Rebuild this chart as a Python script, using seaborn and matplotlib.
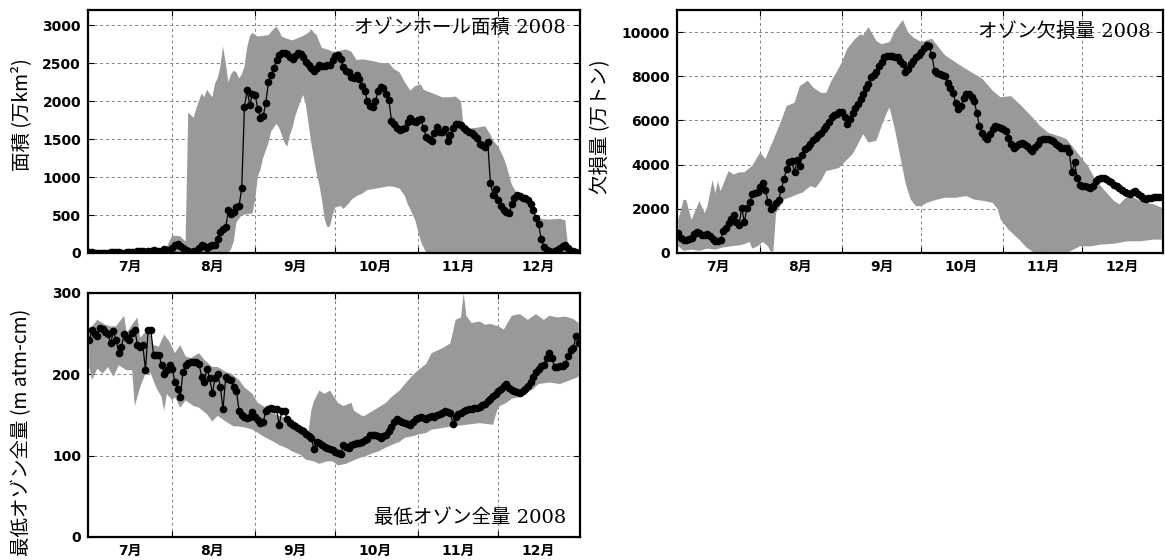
import numpy as np
import pandas as pd
import matplotlib
matplotlib.use("Agg")
import matplotlib.pyplot as plt
import seaborn as sns

# ---------------- data ----------------
months = ["7月", "8月", "9月", "10月", "11月", "12月"]
titles = ["オゾンホール面積 2008", "オゾン欠損量 2008", "最低オゾン全量 2008"]
ylabels = ["面積 (万km²)", "欠損量 (万トン)", "最低オゾン全量 (m atm-cm)"]

# Ozone hole area 2008 (10^4 km2), daily Jul 1 .. Dec 31
area_jul = [10, 8, 5, 5, 3, 3, 5, 5, 8, 10, 10, 8, 5, 5, 8, 10, 10, 15, 20, 25, 20, 15, 20, 30, 40, 30, 20, 30, 50, 40, 30]
area_aug = [60, 100, 120, 90, 60, 40, 20, 10, 20, 30, 60, 100, 90, 70, 90, 100, 110, 180, 270, 320, 340, 560, 520, 540, 600, 620, 860, 1920, 2140, 1950, 2090]
area_sep = [2080, 1900, 1780, 1800, 1980, 2250, 2350, 2430, 2540, 2610, 2640, 2640, 2620, 2580, 2550, 2600, 2630, 2620, 2580, 2520, 2480, 2440, 2400, 2430, 2470, 2460, 2460, 2470, 2480, 2540]
area_oct = [2590, 2610, 2560, 2450, 2400, 2380, 2320, 2300, 2350, 2290, 2200, 2130, 2000, 1930, 1920, 2000, 2130, 2180, 2170, 2100, 2020, 1740, 1700, 1650, 1620, 1630, 1650, 1720, 1780, 1740, 1720]
area_nov = [1750, 1760, 1640, 1530, 1500, 1480, 1580, 1660, 1590, 1600, 1630, 1480, 1560, 1640, 1700, 1700, 1680, 1650, 1620, 1600, 1580, 1560, 1520, 1440, 1420, 1400, 1460, 920, 760, 840]
area_dec = [700, 620, 570, 540, 530, 640, 720, 760, 750, 730, 720, 700, 640, 560, 460, 380, 180, 80, 40, 20, 10, 20, 40, 70, 90, 100, 60, 30, 20, 10, 5]

# range of past years (band), day offsets from Jul 1
area_up_day = [0, 6, 12, 17, 21, 25, 29, 31, 34, 36, 37, 39, 40, 41, 42, 43, 44, 45, 46, 47, 48, 49, 50, 51, 52, 53, 54, 55, 56, 57, 58, 59, 60, 61, 62, 63, 65, 67, 69, 70, 71, 72, 74, 76, 78, 80, 82, 83, 84, 85, 86, 87, 89, 91, 93, 96, 98, 100, 102, 104, 107, 109, 112, 114, 116, 118, 120, 122, 124, 125, 127, 130, 132, 135, 137, 139, 140, 142, 145, 148, 150, 151, 153, 155, 156, 158, 160, 162, 164, 166, 168, 172, 176, 178, 179, 181, 183]
area_up_val = [20, 10, 30, 50, 30, 60, 80, 230, 220, 150, 1850, 1780, 1900, 2000, 2100, 2050, 2150, 2100, 2050, 2230, 2300, 2450, 2720, 2500, 2250, 2350, 2400, 2380, 2300, 2350, 2450, 2700, 2850, 2900, 2870, 2850, 2860, 2870, 2950, 2980, 2920, 2850, 2820, 2800, 2830, 2860, 2900, 2950, 2900, 2870, 2780, 2700, 2680, 2650, 2660, 2680, 2650, 2540, 2550, 2540, 2520, 2500, 2500, 2420, 2380, 2250, 2140, 2200, 2220, 2150, 2120, 2080, 2050, 2050, 2060, 2000, 1650, 1640, 1650, 1670, 1560, 1480, 1400, 1250, 1150, 900, 780, 700, 640, 560, 450, 440, 450, 430, 100, 30, 10]
area_lo_day = [0, 52, 53, 54, 55, 57, 59, 61, 62, 63, 64, 65, 66, 67, 68, 69, 70, 71, 72, 73, 74, 75, 76, 77, 78, 79, 80, 81, 82, 83, 84, 85, 86, 87, 88, 89, 90, 91, 92, 94, 95, 97, 98, 100, 102, 104, 106, 109, 112, 114, 116, 118, 119, 121, 122, 124, 126, 183]
area_lo_val = [0, 0, 50, 150, 400, 500, 510, 520, 700, 1000, 1100, 1250, 1350, 1450, 1600, 1650, 1700, 1650, 1550, 1450, 1400, 1550, 1650, 1800, 1900, 2000, 2080, 1950, 1700, 1450, 1250, 1050, 900, 700, 450, 340, 350, 500, 600, 620, 580, 650, 700, 750, 780, 830, 840, 860, 880, 870, 850, 750, 650, 500, 420, 150, 0, 0]

# Ozone mass deficit 2008 (10^4 t)
omd_jul = [900, 700, 600, 600, 650, 700, 850, 950, 900, 800, 800, 850, 750, 650, 550, 550, 600, 1000, 1150, 1350, 1550, 1700, 1400, 1250, 2050, 1400, 2050, 2300, 2650, 2700, 2750]
omd_aug = [3000, 3150, 2850, 2300, 2000, 2100, 2250, 2400, 2900, 3350, 3800, 4100, 4150, 3650, 4200, 3950, 4450, 4700, 4800, 4950, 5100, 5200, 5350, 5450, 5600, 5750, 5950, 6150, 6250, 6300, 6400]
omd_sep = [6380, 6150, 5850, 6050, 6350, 6550, 6750, 6950, 7200, 7450, 7650, 7950, 8050, 8200, 8450, 8650, 8850, 8900, 8920, 8920, 8880, 8850, 8700, 8550, 8200, 8350, 8550, 8700, 8850, 8950]
omd_oct = [9100, 9300, 9400, 9350, 8950, 8250, 8150, 8100, 8080, 8030, 7700, 7450, 7250, 6800, 6500, 6650, 7000, 7200, 7200, 7050, 6880, 6350, 5750, 5450, 5250, 5150, 5400, 5600, 5750, 5700, 5640]
omd_nov = [5600, 5530, 5200, 4950, 4770, 4850, 4950, 5000, 4950, 4850, 4700, 4620, 4800, 4950, 5100, 5150, 5180, 5180, 5120, 5050, 4950, 4850, 4770, 4760, 4770, 4550, 3650, 4100, 3400, 3100]
omd_dec = [3050, 3030, 3000, 2950, 3050, 3250, 3350, 3400, 3400, 3330, 3260, 3200, 3100, 3030, 2950, 2850, 2780, 2700, 2650, 2750, 2800, 2650, 2580, 2500, 2450, 2470, 2500, 2520, 2540, 2550, 2540]

omd_up_day = [0, 2, 3, 5, 8, 10, 11, 13, 14, 15, 16, 19, 21, 23, 25, 28, 31, 33, 35, 36, 39, 41, 44, 46, 49, 51, 54, 56, 58, 60, 62, 64, 67, 69, 70, 72, 75, 77, 80, 82, 85, 87, 89, 92, 96, 98, 101, 106, 110, 115, 119, 122, 126, 130, 134, 137, 140, 145, 147, 151, 155, 158, 162, 165, 167, 169, 171, 175, 177, 180, 183]
omd_up_val = [1500, 2400, 2400, 1500, 2350, 1800, 2100, 3300, 2700, 3250, 2800, 3700, 3550, 3650, 3650, 3950, 4550, 4250, 4850, 5100, 6000, 6650, 6800, 7550, 7800, 7500, 7250, 7250, 7800, 8200, 8650, 9250, 9700, 9900, 9850, 10230, 9600, 9450, 9550, 10050, 10550, 10000, 9750, 9550, 9700, 9400, 8950, 8550, 8250, 7900, 7350, 7050, 7100, 6650, 6150, 5750, 5450, 5250, 5150, 4550, 3950, 3300, 2750, 2350, 2200, 2450, 2600, 2350, 2280, 2200, 2050]
omd_lo_day = [0, 2, 5, 8, 11, 14, 17, 20, 23, 25, 27, 28, 30, 32, 34, 35, 36, 37, 40, 42, 45, 47, 50, 52, 54, 56, 59, 61, 64, 66, 69, 70, 72, 75, 77, 79, 80, 82, 84, 86, 88, 90, 92, 94, 98, 101, 105, 109, 112, 116, 119, 121, 122, 125, 129, 132, 135, 140, 148, 152, 156, 160, 165, 170, 175, 180, 183]
omd_lo_val = [300, 100, 150, 100, 200, 150, 250, 300, 350, 400, 500, 200, 300, 500, 300, 50, 80, 1800, 2420, 2500, 2650, 2730, 3030, 2950, 3260, 3710, 3790, 3860, 4240, 4470, 5150, 5380, 5000, 5080, 5760, 6360, 6590, 5600, 4390, 3180, 2420, 2120, 2120, 2270, 2420, 2500, 2500, 2580, 2420, 2350, 2270, 1970, 1520, 1060, 610, 230, 0, 50, 50, 300, 300, 380, 420, 530, 530, 610, 600]

# Minimum total ozone 2008 (m atm-cm)
tmin_jul = [242, 255, 250, 247, 257, 256, 252, 249, 238, 253, 242, 226, 234, 249, 245, 242, 251, 255, 236, 234, 236, 205, 255, 255, 224, 224, 224, 212, 201, 205, 211]
tmin_aug = [207, 190, 182, 172, 203, 211, 214, 215, 215, 215, 213, 197, 190, 207, 195, 177, 195, 201, 184, 157, 197, 194, 193, 184, 180, 155, 150, 147, 146, 148, 154]
tmin_sep = [147, 144, 140, 141, 155, 157, 158, 157, 157, 138, 155, 155, 145, 140, 138, 136, 134, 132, 130, 127, 124, 122, 108, 117, 115, 113, 111, 110, 108, 107]
tmin_oct = [105, 103, 102, 113, 111, 109, 113, 114, 115, 116, 117, 119, 121, 125, 126, 126, 124, 122, 124, 126, 130, 135, 141, 145, 143, 142, 140, 139, 138, 141, 145]
tmin_nov = [146, 147, 146, 145, 148, 149, 147, 150, 151, 153, 155, 154, 153, 139, 148, 151, 153, 155, 156, 157, 157, 158, 158, 160, 162, 164, 167, 170, 173, 176]
tmin_dec = [179, 182, 186, 188, 183, 181, 179, 178, 177, 180, 182, 186, 190, 197, 203, 207, 210, 212, 220, 226, 220, 209, 209, 210, 210, 213, 222, 230, 232, 247, 238]

tmin_up_day = [0, 3, 6, 8, 10, 13, 14, 16, 18, 19, 21, 22, 24, 26, 28, 30, 32, 34, 36, 38, 41, 43, 46, 48, 51, 53, 56, 58, 61, 63, 66, 68, 71, 73, 76, 78, 81, 82, 83, 84, 86, 88, 90, 93, 95, 98, 99, 102, 103, 106, 108, 111, 113, 116, 118, 121, 123, 126, 128, 132, 135, 137, 139, 140, 141, 143, 146, 148, 150, 153, 155, 158, 161, 164, 167, 170, 172, 175, 178, 181, 183]
tmin_up_val = [255, 267, 261, 259, 259, 272, 251, 261, 270, 245, 252, 258, 236, 234, 249, 240, 226, 236, 222, 220, 226, 218, 209, 209, 203, 201, 193, 184, 176, 165, 159, 153, 149, 147, 145, 138, 134, 130, 155, 167, 180, 176, 180, 165, 161, 165, 155, 149, 149, 155, 159, 165, 172, 180, 188, 199, 205, 213, 226, 232, 238, 267, 270, 300, 272, 263, 265, 261, 262, 259, 255, 272, 274, 267, 274, 267, 272, 270, 271, 268, 263]
tmin_lo_day = [0, 1, 3, 5, 7, 9, 11, 14, 16, 17, 19, 21, 23, 25, 27, 28, 29, 31, 32, 34, 36, 39, 41, 44, 46, 48, 51, 54, 56, 59, 61, 64, 66, 69, 71, 74, 76, 79, 81, 84, 86, 89, 91, 93, 96, 98, 101, 103, 106, 108, 111, 113, 116, 118, 121, 123, 126, 128, 132, 136, 141, 146, 151, 152, 153, 156, 158, 161, 163, 166, 168, 172, 176, 180, 183]
tmin_lo_val = [209, 193, 207, 201, 209, 197, 211, 205, 205, 161, 184, 201, 201, 184, 172, 155, 176, 168, 172, 159, 168, 161, 159, 151, 142, 149, 142, 136, 136, 134, 132, 126, 122, 117, 113, 109, 105, 101, 95, 93, 90, 93, 93, 88, 90, 93, 97, 99, 103, 105, 110, 113, 117, 122, 124, 126, 128, 132, 134, 136, 138, 140, 138, 150, 160, 165, 170, 172, 176, 182, 188, 190, 188, 193, 197]

# ---------------- style ----------------
sns.set_style("ticks")
plt.rcParams["font.family"] = ["DejaVu Sans", "Noto Sans CJK JP"]
for key in ["text.color", "axes.labelcolor", "xtick.color", "ytick.color"]:
    plt.rcParams[key] = "black"
CJK = ["Noto Sans CJK JP", "DejaVu Sans"]
TITLE_FONT = ["DejaVu Serif", "Noto Sans CJK JP"]

START = pd.Timestamp("2008-07-01")
dates = pd.date_range("2008-07-01", "2008-12-31", freq="D")
month_starts = pd.date_range("2008-07-01", "2009-01-01", freq="MS")
month_mids = [pd.Timestamp(2008, m, 16) for m in range(7, 13)]
BAND = "#999999"

def to_dates(days):
    return (START + pd.to_timedelta(np.asarray(days, dtype=float), unit="D")).values

W, H = 1165, 560
fig = plt.figure(figsize=(W / 100, H / 100), dpi=100)

def px_axes(x0, y0, x1, y1):
    return fig.add_axes([x0 / W, 1 - y1 / H, (x1 - x0) / W, (y1 - y0) / H])

ax1 = px_axes(88, 10, 580, 253)
ax2 = px_axes(677, 10, 1163, 253)
ax3 = px_axes(88, 293, 580, 537)

panels = [
    (ax1, area_jul + area_aug + area_sep + area_oct + area_nov + area_dec,
     area_up_day, area_up_val, area_lo_day, area_lo_val,
     (0, 3200), np.arange(0, 3001, 500), titles[0], ylabels[0],
     (0.972, 0.926), (-0.114, 0.568)),
    (ax2, omd_jul + omd_aug + omd_sep + omd_oct + omd_nov + omd_dec,
     omd_up_day, omd_up_val, omd_lo_day, omd_lo_val,
     (0, 11000), np.arange(0, 10001, 2000), titles[1], ylabels[1],
     (0.974, 0.91), (-0.136, 0.52)),
    (ax3, tmin_jul + tmin_aug + tmin_sep + tmin_oct + tmin_nov + tmin_dec,
     tmin_up_day, tmin_up_val, tmin_lo_day, tmin_lo_val,
     (0, 300), np.arange(0, 301, 100), titles[2], ylabels[2],
     (0.972, 0.078), (-0.114, 0.43)),
]

for (ax, series, ud, uv, ld, lv, ylim, yticks, title, ylabel,
     tpos, lpos) in panels:
    df = pd.DataFrame({"date": dates, "value": series})
    sns.lineplot(data=df, x="date", y="value", ax=ax, color="black",
                 marker="o", markersize=5.5, markeredgewidth=0,
                 linewidth=0.9, zorder=3)
    band_x = np.concatenate([to_dates(ud), to_dates(ld)[::-1]])
    band_y = np.concatenate([np.asarray(uv, float), np.asarray(lv, float)[::-1]])
    ax.fill(band_x, band_y, color=BAND, linewidth=0, zorder=1)

    ax.set_xlim(pd.Timestamp("2008-06-30 12:00"), pd.Timestamp("2008-12-31 12:00"))
    ax.set_ylim(*ylim)
    ax.set_yticks(yticks)
    ax.set_xticks(month_starts[1:-1])
    ax.set_xticklabels([])
    ax.set_xticks(month_mids, minor=True)
    ax.set_xticklabels(months, minor=True)
    ax.tick_params(axis="both", which="major", direction="in", length=4,
                   width=0.8, top=True, right=True, labelsize=10)
    ax.tick_params(axis="y", which="major", pad=5)
    ax.tick_params(axis="x", which="minor", length=0, pad=5, labelsize=10)
    ax.tick_params(axis="y", which="minor", left=False, right=False)
    for lab in ax.get_yticklabels() + ax.get_xticklabels(minor=True):
        lab.set_fontweight("bold")

    ax.set_axisbelow(True)
    ax.grid(True, which="major", linestyle=(0, (3, 3)), color="#808080",
            linewidth=0.7)
    for sp in ax.spines.values():
        sp.set_linewidth(1.6)
        sp.set_color("black")

    ax.set_xlabel("")
    ax.set_ylabel(ylabel, fontsize=14, family=CJK)
    ax.yaxis.set_label_coords(*lpos)
    ax.text(tpos[0], tpos[1], title, transform=ax.transAxes, ha="right",
            va="center", fontsize=14, family=TITLE_FONT, zorder=4)

fig.savefig("out.png", dpi=100)
